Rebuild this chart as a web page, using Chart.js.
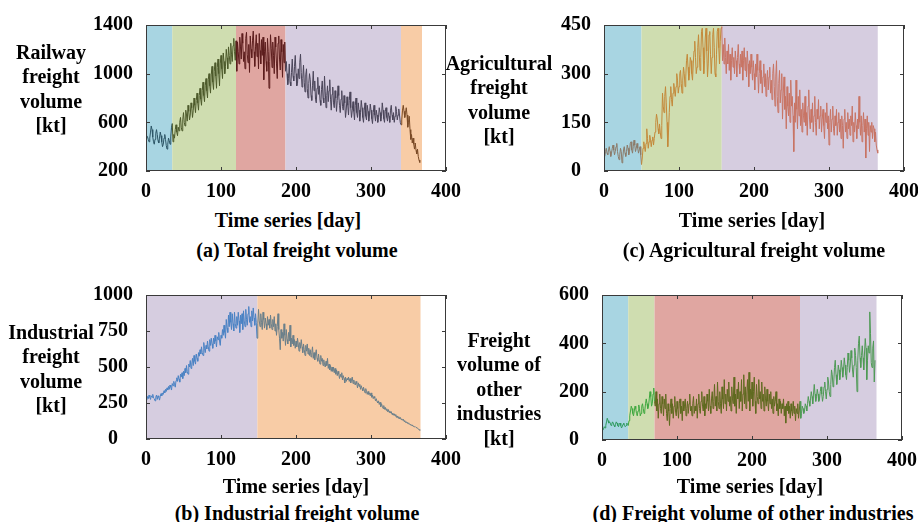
<!DOCTYPE html>
<html>
<head>
<meta charset="utf-8">
<script src="https://cdn.jsdelivr.net/npm/chart.js@4.4.1/dist/chart.umd.min.js"></script>
<style>
  body { margin: 0; width: 918px; height: 522px; overflow: hidden; background: #fff; position: relative; }
  canvas { position: absolute; }
  .lbl { position: absolute; font-family: "Liberation Serif", "Times New Roman", serif; font-weight: bold;
         font-size: 20px; line-height: 24.4px; text-align: center; color: #000; white-space: nowrap; }
</style>
</head>
<body>
<canvas id="chart-a" width="475" height="205" style="left:0px;top:0px"></canvas>
<canvas id="chart-c" width="478" height="205" style="left:460px;top:0px"></canvas>
<canvas id="chart-b" width="475" height="205" style="left:0px;top:270px"></canvas>
<canvas id="chart-d" width="478" height="205" style="left:460px;top:270px"></canvas>

<div class="lbl" style="left:-19px;top:40px;width:140px">Railway<br>freight<br>volume<br>[kt]</div>
<div class="lbl" style="left:429px;top:51px;width:140px">Agricultural<br>freight<br>volume<br>[kt]</div>
<div class="lbl" style="left:-19px;top:320px;width:140px">Industrial<br>freight<br>volume<br>[kt]</div>
<div class="lbl" style="left:429px;top:328px;width:140px">Freight<br>volume of<br>other<br>industries<br>[kt]</div>

<div class="lbl" style="left:188px;top:208px;width:200px">Time series [day]</div>
<div class="lbl" style="left:652px;top:208px;width:200px">Time series [day]</div>
<div class="lbl" style="left:196px;top:474px;width:200px">Time series [day]</div>
<div class="lbl" style="left:650px;top:474px;width:200px">Time series [day]</div>

<div class="lbl" style="left:147px;top:238px;width:300px">(a) Total freight volume</div>
<div class="lbl" style="left:604px;top:238px;width:300px">(c) Agricultural freight volume</div>
<div class="lbl" style="left:147px;top:501px;width:300px">(b) Industrial freight volume</div>
<div class="lbl" style="left:583px;top:501px;width:340px">(d) Freight volume of other industries</div>

<script>
// daily values, day 1..365
const railway = [
  490, 480, 460, 440, 470, 520, 570, 540, 480, 440,
  420, 460, 510, 540, 500, 450, 430, 470, 520, 490,
  440, 400, 420, 470, 500, 460, 410, 380, 420, 470,
  450, 420, 480, 560, 590,
  440, 500, 470, 540, 580, 520, 490, 560, 530, 600,
  640, 560, 530, 620, 680, 600, 570, 700, 660, 610,
  740, 690, 620, 660, 760, 720, 640, 700, 800, 740,
  680, 780, 840, 760, 700, 820, 880, 790, 740, 860,
  930, 820, 770, 900, 960, 860, 800, 950, 1000, 900,
  840, 990, 1060, 930, 870, 1020, 1090, 980, 880, 1050,
  1120, 1000, 900, 1080, 1150, 1040, 960, 1170, 1100, 1000,
  1060, 1200, 1130, 1040, 1220, 1150, 1080, 1250, 1160, 1100,
  1230, 1290, 1180, 1110, 1270,
  1020, 1260, 1180, 1080, 1300, 1220, 1120, 1330, 1250, 1100,
  1180, 1040, 1290, 1340, 1160, 1090, 1240, 1010, 1310, 1200,
  1130, 1270, 1350, 1180, 1060, 1220, 1320, 1140, 1250, 1040,
  1330, 1190, 1080, 1280, 1150, 1300, 950, 1180, 1260, 1100,
  1020, 1290, 1180, 880, 1100, 1320, 1210, 1050, 1260, 1150,
  1000, 1300, 1220, 1080, 960, 1250, 1310, 1120, 1030, 1280,
  1180, 970, 1240, 1090, 1260, 1020,
  1100, 1000, 910, 960, 1080, 930, 900, 1010, 1120, 980,
  940, 1060, 1150, 1000, 900, 920, 1040, 960, 1090, 1160,
  1010, 890, 960, 1070, 930, 850, 990, 1040, 880, 800,
  920, 1000, 950, 820, 780, 900, 1020, 860, 940, 790,
  760, 880, 970, 830, 900, 780, 740, 870, 940, 800,
  760, 980, 850, 720, 820, 900, 770, 860, 950, 790,
  700, 830, 890, 760, 720, 860, 800, 690, 780, 900,
  820, 740, 680, 790, 860, 730, 700, 820, 760, 640,
  700, 810, 740, 660, 780, 850, 720, 640, 700, 770,
  690, 620, 740, 800, 680, 640, 760, 700, 610, 680,
  780, 720, 640, 600, 700, 760, 650, 620, 740, 690,
  610, 660, 750, 700, 630, 590, 680, 740, 660, 610,
  700, 660, 600, 640, 720, 680, 610, 650, 760, 700,
  630, 600, 690, 720, 640, 610, 680, 650, 600, 700,
  740, 660, 620, 680, 600, 650, 730, 690, 620, 660,
  710, 660, 600, 580,
  620, 700, 740, 690, 640, 680, 720, 660, 560, 600,
  650, 540, 460, 500, 430, 470, 420, 380, 430, 370,
  340, 380, 320, 290, 270
];

const agricultural = [
  45, 60, 70, 55, 50, 65, 75, 60, 45, 55,
  70, 80, 65, 50, 60, 75, 85, 60, 45, 35,
  50, 70, 60, 25, 40, 65, 75, 55, 45, 60,
  80, 70, 50, 60, 85, 90, 65, 55, 75, 95,
  80, 60, 70, 85, 70, 55, 65, 75, 50, 20,
  40, 70, 90, 75, 60, 85, 130, 100, 70, 90,
  110, 95, 75, 95, 105, 80, 100, 120, 150, 175,
  160, 130, 115, 145, 120, 100, 140, 240, 200, 180,
  230, 260, 210, 150, 75, 120, 180, 230, 260, 220,
  200, 240, 270, 250, 230, 260, 300, 280, 240, 260,
  300, 310, 270, 240, 280, 320, 300, 260, 290, 340,
  360, 320, 280, 300, 350, 340, 300, 280, 330, 370,
  400, 350, 300, 320, 380, 420, 360, 310, 350, 430,
  440, 380, 300, 340, 410, 440, 370, 290, 330, 420,
  430, 360, 300, 350, 420, 440, 380, 300, 290, 360,
  430, 440, 380, 330, 400, 440, 445,
  340, 390, 330, 410, 350, 300, 370, 330, 390, 310,
  360, 280, 340, 380, 320, 350, 300, 370, 340, 290,
  350, 390, 330, 300, 360, 320, 370, 280, 340, 380,
  310, 350, 290, 370, 330, 260, 340, 300, 360, 320,
  280, 340, 300, 250, 330, 290, 360, 310, 240, 300,
  340, 270, 310, 240, 290, 330, 260, 300, 230, 280,
  310, 250, 290, 320, 240, 280, 220, 300, 330, 260,
  200, 290, 340, 230, 180, 270, 310, 210, 250, 300,
  160, 240, 290, 190, 230, 130, 260, 200, 170, 240,
  150, 280, 200, 230, 170, 60, 210, 150, 280, 190,
  130, 230, 170, 250, 140, 190, 120, 210, 170, 150,
  230, 140, 180, 110, 200, 250, 160, 130, 190, 150,
  210, 120, 170, 230, 150, 110, 190, 160, 220, 130,
  170, 200, 120, 160, 190, 140, 100, 180, 150, 210,
  130, 170, 80, 150, 190, 120, 160, 200, 130, 110,
  170, 140, 190, 110, 150, 180, 120, 160, 100, 170,
  140, 70, 160, 190, 120, 150, 100, 180, 130, 160,
  110, 170, 140, 200, 90, 150, 120, 180, 140, 100,
  160, 130, 230, 150, 110, 170, 90, 140, 180, 120,
  160, 40, 130, 170, 110, 150, 60, 140, 120, 150,
  100, 140, 130, 90, 120, 80, 65, 55
];

const industrial = [
  270, 295, 280, 305, 290, 275, 300, 290, 310, 285,
  280, 265, 290, 305, 275, 300, 290, 270, 295, 315,
  300, 320, 310, 335, 320, 345, 330, 355, 340, 365,
  345, 375, 360, 340, 385, 370, 400, 380, 360, 405,
  425, 400, 440, 415, 395, 450, 430, 460, 420, 470,
  440, 490, 460, 510, 470, 450, 520, 500, 545, 490,
  520, 560, 510, 580, 540, 520, 590, 560, 540, 600,
  575, 620, 590, 640, 600, 580, 670, 630, 600, 650,
  625, 680, 640, 610, 690, 650, 700, 660, 630, 700,
  660, 720, 680, 640, 710, 690, 740, 680, 650, 720,
  700, 760, 720, 790, 740, 700, 830, 770, 740, 860,
  780, 880, 810, 760, 870, 800, 750, 880, 800, 770,
  850, 790, 880, 820, 740, 860, 800, 870, 760, 890,
  820, 780, 900, 830, 790, 870, 920, 810, 850, 780,
  890, 820, 910, 840, 790, 870, 810, 700,
  800, 900, 820, 780, 870, 810, 760, 880, 830, 770,
  840, 800, 760, 850, 790, 830, 770, 860, 800, 760,
  830, 780, 850, 750, 800, 720, 780, 870, 760, 700,
  620, 760, 700, 740, 680, 800, 720, 650, 760, 690,
  660, 740, 680, 790, 640, 700, 660, 720, 650, 690,
  630, 680, 640, 700, 660, 610, 670, 630, 690, 640,
  600, 660, 620, 580, 650, 610, 660, 590, 630, 580,
  620, 570, 600, 640, 560, 600, 550, 590, 620, 560,
  540, 590, 550, 520, 580, 540, 560, 510, 550, 520,
  500, 540, 510, 560, 490, 520, 480, 510, 470, 500,
  470, 500, 460, 490, 450, 480, 440, 470, 450, 420,
  450, 430, 460, 410, 440, 420, 390, 430, 400, 420,
  410, 430, 400, 420, 390, 410, 430, 385, 410, 390,
  375, 400, 385, 355, 390, 365, 380, 345, 370, 350,
  335, 360, 340, 320, 350, 330, 310, 330, 310, 320,
  300, 320, 290, 305, 280, 295, 285, 265, 280, 260,
  250, 265, 240, 255, 225, 245, 228, 212, 232, 206,
  220, 200, 210, 190, 205, 185, 195, 180, 190, 170,
  180, 165, 175, 160, 170, 150, 160, 145, 155, 140,
  150, 135, 140, 130, 138, 122, 128, 115, 120, 110,
  115, 105, 108, 98, 102, 94, 97, 88, 90, 85,
  86, 80, 78, 74, 70, 66, 60
];

const otherIndustries = [
  40, 45, 55, 50, 60, 75, 90, 80, 70, 75,
  70, 60, 65, 75, 70, 60, 55, 65, 75, 70,
  60, 55, 65, 70, 60, 50, 55, 65, 70, 60,
  55, 60, 70, 65, 60,
  80, 100, 120, 140, 130, 110, 100, 120, 140, 130,
  110, 100, 120, 145, 130, 100, 110, 140, 150, 130,
  110, 120, 150, 170, 150, 130, 140, 170, 200, 180,
  140, 150, 190, 215, 160,
  140, 200, 120, 170, 90, 150, 190, 130, 110, 180,
  150, 100, 170, 130, 190, 110, 80, 150, 120, 60,
  130, 170, 110, 150, 90, 140, 180, 120, 100, 160,
  130, 90, 150, 170, 110, 140, 80, 160, 120, 140,
  170, 100, 130, 160, 110, 150, 190, 120, 140, 100,
  150, 180, 110, 140, 120, 170, 90, 150, 190, 130,
  110, 160, 200, 140, 120, 180, 100, 150, 130, 190,
  160, 120, 210, 140, 110, 170, 200, 130, 160, 230,
  140, 180, 120, 240, 160, 130, 200, 150, 110, 220,
  170, 130, 250, 150, 190, 120, 210, 160, 240, 140,
  180, 120, 220, 170, 150, 260, 140, 190, 110, 210,
  170, 240, 130, 200, 160, 250, 120, 190, 270, 150,
  220, 130, 190, 250, 160, 280, 120, 210, 170, 240,
  140, 200, 260, 160, 110, 230, 180, 150, 250, 170,
  200, 130, 240, 160, 190, 120, 220, 170, 140, 210,
  160, 120, 190, 150, 200, 130, 170, 110, 180, 140,
  160, 200, 120, 150, 100, 170, 130, 160, 110, 150,
  130, 170, 100, 140, 70, 150, 120, 160, 110, 140,
  90, 150, 120, 100, 160, 110, 140, 80, 130, 110,
  150, 90, 120, 160,
  90, 110, 140, 130, 110, 120, 150, 140, 120, 150,
  180, 160, 140, 170, 200, 180, 150, 190, 230, 190,
  160, 180, 210, 190, 160, 170, 200, 220, 190, 160,
  180, 220, 240, 200, 170, 210, 260, 240, 200, 180,
  230, 290, 270, 220, 240, 300, 330, 270, 230, 260,
  310, 290, 250, 280, 330, 300, 260, 290, 340, 310,
  270, 250, 300, 360, 330, 280, 310, 370, 340, 290,
  260, 310, 380, 350, 300, 200, 330, 400, 430, 340,
  300, 350, 390, 340, 290, 360, 420, 380, 250, 330,
  390, 360, 530, 440, 320, 300, 380, 410, 240, 330,
  330
];

// period boundaries (day) for the shaded stages
const railwayStages = [0, 35, 120, 186, 340, 368];
const agriculturalStages = [0, 50, 157, 365];
const industrialStages = [0, 148.5, 366];
const otherStages = [0, 35, 70, 264, 366];

const railwayTicks = [200, 600, 1000, 1400];
const agriculturalTicks = [0, 150, 300, 450];
const industrialTicks = [0, 250, 500, 750, 1000];
const otherTicks = [0, 200, 400, 600];
const dayTicks = [0, 100, 200, 300, 400];

const BLUE = '#a8d5e2', GREEN = '#cfddb0', RED = '#e0a6a1', PURPLE = '#d6cde0', ORANGE = '#f8cca6';

const stagesPlugin = {
  id: 'stages',
  beforeDatasetsDraw(chart, args, opts) {
    const {ctx, chartArea, scales: {x}} = chart;
    ctx.save();
    for (let i = 0; i < opts.fills.length; i++) {
      const x0 = x.getPixelForValue(opts.edges[i]);
      const x1 = x.getPixelForValue(opts.edges[i + 1]);
      ctx.fillStyle = opts.fills[i];
      ctx.fillRect(x0, chartArea.top, x1 - x0, chartArea.bottom - chartArea.top);
    }
    ctx.restore();
  },
  afterDraw(chart, args, opts) {
    const {ctx, chartArea: a, scales: {x, y}} = chart;
    ctx.save();
    ctx.strokeStyle = '#3a3a3a';
    ctx.lineWidth = 1;
    ctx.strokeRect(a.left + 0.5, a.top + 0.5, a.right - a.left - 1, a.bottom - a.top - 1);
    ctx.beginPath();
    opts.xTicks.forEach(v => {
      const px = Math.round(x.getPixelForValue(v)) + 0.5;
      ctx.moveTo(px, a.bottom); ctx.lineTo(px, a.bottom - 4);
      ctx.moveTo(px, a.top); ctx.lineTo(px, a.top + 4);
    });
    opts.yTicks.forEach(v => {
      const py = Math.round(y.getPixelForValue(v)) + 0.5;
      ctx.moveTo(a.left, py); ctx.lineTo(a.left + 4, py);
      ctx.moveTo(a.right, py); ctx.lineTo(a.right - 4, py);
    });
    ctx.stroke();
    ctx.restore();
  }
};

const tickFont = {family: "'Liberation Serif', 'Times New Roman', serif", weight: 'bold', size: 20};

function makeChart(id, values, edges, fills, lineColors, yTicks, area, canvasPos) {
  const points = values.map((v, i) => ({x: i + 1, y: v}));
  const colorAt = day => {
    for (let i = 0; i < lineColors.length; i++) {
      if (day < edges[i + 1]) return lineColors[i];
    }
    return lineColors[lineColors.length - 1];
  };
  const canvas = document.getElementById(id);
  return new Chart(canvas.getContext('2d'), {
    type: 'line',
    data: {
      datasets: [{
        data: points,
        borderWidth: 1,
        pointRadius: 0,
        tension: 0,
        borderColor: lineColors[0],
        segment: {
          borderColor: ctx => colorAt((ctx.p0.parsed.x + ctx.p1.parsed.x) / 2)
        }
      }]
    },
    options: {
      responsive: false,
      animation: false,
      layout: {
        padding: {
          left: 0,
          top: area.t - canvasPos.top,
          right: canvasPos.left + canvas.width - area.r,
          bottom: 0
        }
      },
      plugins: {
        legend: {display: false},
        tooltip: {enabled: false},
        stages: {edges: edges, fills: fills, xTicks: dayTicks, yTicks: yTicks}
      },
      scales: {
        x: {
          type: 'linear',
          min: 0, max: 400,
          grid: {display: false, drawTicks: false},
          border: {display: false},
          afterBuildTicks: s => { s.ticks = dayTicks.map(v => ({value: v})); },
          afterFit: s => { s.height = canvasPos.top + canvas.height - area.b; },
          ticks: {font: tickFont, color: '#000', padding: 9, maxRotation: 0, callback: v => String(v)}
        },
        y: {
          min: yTicks[0], max: yTicks[yTicks.length - 1],
          grid: {display: false, drawTicks: false},
          border: {display: false},
          afterBuildTicks: s => { s.ticks = yTicks.map(v => ({value: v})); },
          afterFit: s => { s.width = area.l - canvasPos.left; },
          ticks: {font: tickFont, color: '#000', padding: 13, crossAlign: 'center', callback: v => String(v)}
        }
      }
    },
    plugins: [stagesPlugin]
  });
}

makeChart('chart-a', railway, railwayStages,
  [BLUE, GREEN, RED, PURPLE, ORANGE],
  ['#2c5566', '#4d5a2b', '#5c1d1d', '#4a4559', '#7a4a26'],
  railwayTicks, {l: 146, r: 446, t: 21, b: 171}, {left: 0, top: 0});

makeChart('chart-c', agricultural, agriculturalStages,
  [BLUE, GREEN, PURPLE],
  ['#8c7b6a', '#c4893a', '#c87464'],
  agriculturalTicks, {l: 604, r: 904, t: 21, b: 171}, {left: 460, top: 0});

makeChart('chart-b', industrial, industrialStages,
  [PURPLE, ORANGE],
  ['#4a82c4', '#6a7f8a'],
  industrialTicks, {l: 146, r: 446, t: 290, b: 439}, {left: 0, top: 270});

makeChart('chart-d', otherIndustries, otherStages,
  [BLUE, GREEN, RED, PURPLE],
  ['#2e9a5e', '#3fa83f', '#5f6a1f', '#4e9a55'],
  otherTicks, {l: 602, r: 902, t: 291, b: 440}, {left: 460, top: 270});
</script>
</body>
</html>
